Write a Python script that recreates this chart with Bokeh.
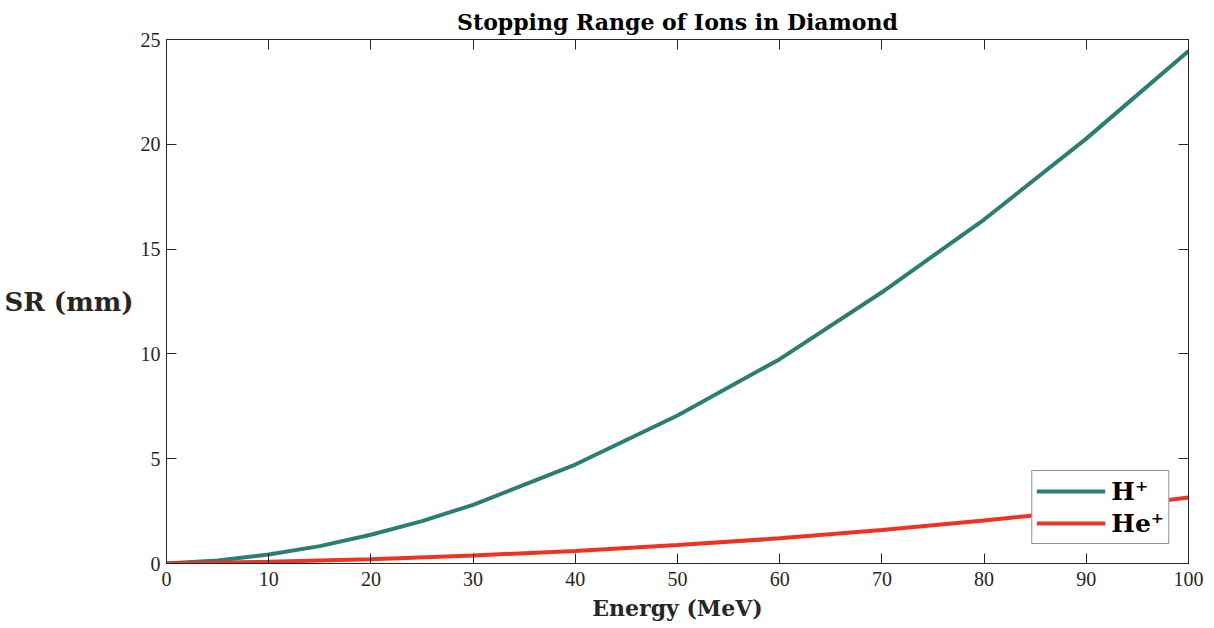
from bokeh.plotting import figure
from bokeh.models import Range1d, LinearAxis, Label, Legend, LegendItem, FixedTicker
from bokeh.embed import file_html
from bokeh.resources import INLINE

energy_h = [0, 5, 10, 15, 20, 25, 30, 40, 50, 60, 70, 80, 90, 100]
sr_h = [0, 0.14, 0.43, 0.83, 1.37, 2.02, 2.80, 4.72, 7.06, 9.75, 12.94, 16.41, 20.27, 24.45]
energy_he = [0, 10, 20, 30, 40, 50, 60, 70, 80, 90, 100]
sr_he = [0, 0.08, 0.20, 0.38, 0.60, 0.88, 1.20, 1.60, 2.05, 2.55, 3.15]
x_ticks = [0, 10, 20, 30, 40, 50, 60, 70, 80, 90, 100]
y_ticks = [0, 5, 10, 15, 20, 25]

TXT = "#262626"
SERIF = "Liberation Serif"
BOLD = "DejaVu Serif"

p = figure(width=1206, height=625, output_backend="svg", toolbar_location=None,
           x_range=Range1d(0, 100), y_range=Range1d(0, 25),
           min_border_left=166, min_border_right=18, min_border_top=39, min_border_bottom=62)
p.title.text = "Stopping Range of Ions in Diamond"
p.title.align = "center"
p.title.text_font = BOLD
p.title.text_font_size = "22px"
p.title.text_font_style = "bold"
p.title.text_color = "black"
p.title.standoff = 9
p.xgrid.visible = False
p.ygrid.visible = False
p.outline_line_color = TXT
p.outline_line_alpha = 1

for ax in [p.xaxis[0], p.yaxis[0]]:
    ax.major_tick_in = 10
    ax.major_tick_out = 0
    ax.minor_tick_in = 0
    ax.minor_tick_out = 0
    ax.axis_line_color = TXT
    ax.major_tick_line_color = TXT
    ax.major_label_text_font = SERIF
    ax.major_label_text_font_size = "20px"
    ax.major_label_text_color = TXT
p.xaxis[0].ticker = FixedTicker(ticks=x_ticks)
p.yaxis[0].ticker = FixedTicker(ticks=y_ticks)
p.xaxis[0].major_label_standoff = 8
p.yaxis[0].major_label_standoff = 6
p.xaxis[0].axis_label = "Energy (MeV)"
p.xaxis[0].axis_label_text_font = BOLD
p.xaxis[0].axis_label_text_font_style = "bold"
p.xaxis[0].axis_label_text_font_size = "22px"
p.xaxis[0].axis_label_text_color = TXT
p.xaxis[0].axis_label_standoff = 6

# mirrored ticks on top and right (as minor ticks, so no labels are drawn)
top = LinearAxis(ticker=FixedTicker(ticks=[], minor_ticks=x_ticks),
                 major_tick_in=0, major_tick_out=0, minor_tick_in=10, minor_tick_out=0,
                 axis_line_color=TXT, minor_tick_line_color=TXT)
right = LinearAxis(ticker=FixedTicker(ticks=[], minor_ticks=y_ticks),
                   major_tick_in=0, major_tick_out=0, minor_tick_in=10, minor_tick_out=0,
                   axis_line_color=TXT, minor_tick_line_color=TXT)
p.add_layout(top, "above")
p.add_layout(right, "right")

r1 = p.line(energy_h, sr_h, line_color="#2a7f71", line_width=4)
r2 = p.line(energy_he, sr_he, line_color="#ee3224", line_width=4)

yax = p.yaxis[0]
if "axis_label_orientation" in yax.properties():
    yax.axis_label = "SR (mm)"
    yax.axis_label_orientation = "horizontal"
    yax.axis_label_text_font = BOLD
    yax.axis_label_text_font_style = "bold"
    yax.axis_label_text_font_size = "26px"
    yax.axis_label_text_color = TXT
    yax.axis_label_standoff = 4
else:
    ylab = Label(x=74, y=625 - 284, x_units="screen", y_units="screen", text="SR (mm)",
                 text_font=BOLD, text_font_style="bold", text_font_size="26px",
                 text_color=TXT, text_align="center", text_baseline="middle")
    p.add_layout(ylab)

legend = Legend(items=[LegendItem(label="H\u207a", renderers=[r1]),
                       LegendItem(label="He\u207a", renderers=[r2])],
                location="bottom_right")
legend.margin = 19
legend.padding = 4
legend.spacing = 0
legend.glyph_width = 69
legend.glyph_height = 32
legend.label_height = 32
legend.label_standoff = 6
legend.label_text_font = BOLD
legend.label_text_font_style = "bold"
legend.label_text_font_size = "25px"
legend.label_text_color = "black"
legend.border_line_color = TXT
legend.border_line_width = 1
legend.background_fill_alpha = 1
p.add_layout(legend)

open("out.html", "w").write(file_html(p, INLINE))
